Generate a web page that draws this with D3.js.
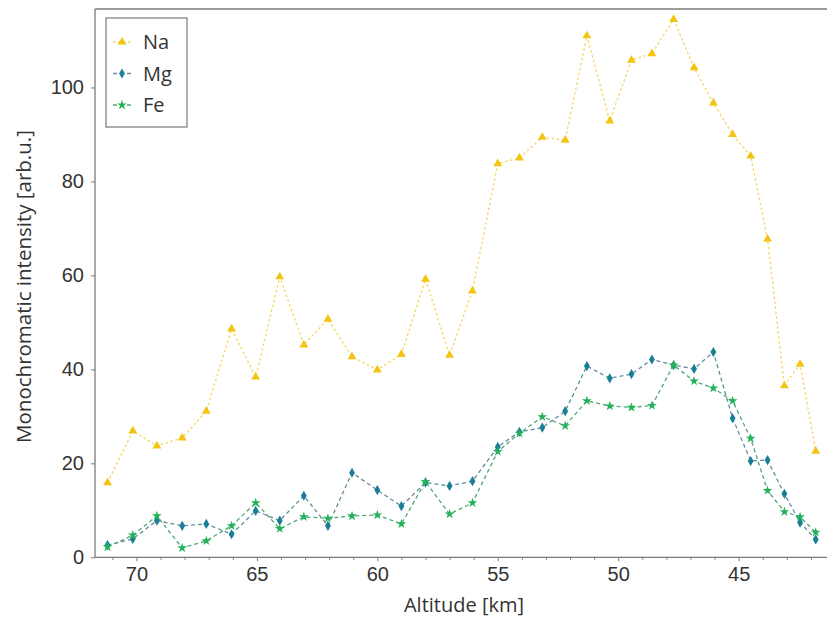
<!DOCTYPE html>
<html>
<head>
<meta charset="utf-8">
<script src="https://cdn.jsdelivr.net/npm/d3@7"></script>
<style>
  html, body { margin: 0; padding: 0; background: #fff; }
  svg { display: block; font-family: "Open Sans", "DejaVu Sans", sans-serif; }
</style>
</head>
<body>
<svg id="chart" width="827" height="619"></svg>
<script>
// Altitude grid of the profile [km]
const altitude = [71.2, 70.15, 69.15, 68.1, 67.1, 66.05, 65.05, 64.05, 63.05, 62.05, 61.05,
  60.0, 59.0, 58.0, 57.0, 56.05, 55.0, 54.1, 53.15, 52.2, 51.3, 50.35, 49.45, 48.6, 47.7,
  46.85, 46.05, 45.25, 44.5, 43.8, 43.1, 42.45, 41.8];

// Monochromatic intensities [arb.u.]
const naValues = [15.9, 26.9, 23.7, 25.4, 31.1, 48.6, 38.4, 59.7, 45.2, 50.7, 42.7, 39.9,
  43.2, 59.2, 43.0, 56.7, 83.8, 85.0, 89.4, 88.8, 111.0, 92.9, 105.8, 107.2, 114.5, 104.2,
  96.7, 90.0, 85.4, 67.7, 36.5, 41.1, 22.6];
const mgValues = [2.6, 3.9, 7.8, 6.7, 7.1, 4.9, 9.9, 7.8, 13.1, 6.7, 18.0, 14.3, 10.9,
  15.9, 15.2, 16.2, 23.5, 26.7, 27.6, 31.1, 40.7, 38.1, 39.0, 42.1, 40.9, 40.1, 43.7, 29.6,
  20.5, 20.7, 13.5, 7.4, 3.8];
const feValues = [2.2, 4.7, 8.8, 2.0, 3.5, 6.7, 11.6, 6.1, 8.6, 8.3, 8.8, 9.0, 7.1, 16.1,
  9.2, 11.6, 22.5, 26.4, 29.9, 28.0, 33.3, 32.2, 31.9, 32.3, 40.9, 37.5, 36.0, 33.3, 25.3,
  14.2, 9.7, 8.6, 5.3];

const seriesNames = ["Na", "Mg", "Fe"];
const xTicks = [70, 65, 60, 55, 50, 45];
const yTicks = [0, 20, 40, 60, 80, 100];
const xLabel = "Altitude [km]";
const yLabel = "Monochromatic intensity [arb.u.]";

const styles = {
  Na: { color: "#f3c413", line: "#f6d55a", symbol: d3.symbolTriangle, size: 34, dash: "2.5,2.5" },
  Mg: { color: "#1a7f96", line: "#5f8f9c", symbol: d3.symbolDiamond, size: 30, dash: "4,3" },
  Fe: { color: "#22b35a", line: "#4fa874", symbol: d3.symbolStar, size: 30, dash: "4,3" }
};

const series = [
  { name: "Na", values: naValues },
  { name: "Mg", values: mgValues },
  { name: "Fe", values: feValues }
];

const svg = d3.select("#chart");
const plotLeft = 95, plotRight = 835, plotTop = 9, plotBottom = 557.3;

const x = d3.scaleLinear().domain([71.72, 41.0]).range([plotLeft, plotRight]);
const y = d3.scaleLinear().domain([0, 116.7]).range([plotBottom, plotTop]);

svg.append("defs").append("clipPath").attr("id", "plotClip")
  .append("rect").attr("x", plotLeft).attr("y", plotTop - 6)
  .attr("width", plotRight - plotLeft + 10).attr("height", plotBottom - plotTop + 12);

// Axes
const axisColor = "#7a7a7a";
const textColor = "#333";

const xAxis = svg.append("g").attr("transform", `translate(0,${plotBottom})`)
  .call(d3.axisBottom(x).tickValues(xTicks).tickFormat(d3.format("d")).tickSize(4).tickPadding(6));
const xMinor = svg.append("g").attr("transform", `translate(0,${plotBottom})`)
  .call(d3.axisBottom(x).tickValues(d3.range(42, 72, 1).filter(v => v % 5 !== 0)).tickFormat("").tickSize(2.5));
const yAxis = svg.append("g").attr("transform", `translate(${plotLeft},0)`)
  .call(d3.axisLeft(y).tickValues(yTicks).tickFormat(d3.format("d")).tickSize(4).tickPadding(7));

[xAxis, xMinor, yAxis].forEach(g => {
  g.select(".domain").remove();
  g.selectAll(".tick line").attr("stroke", axisColor).attr("stroke-width", 1);
  g.selectAll(".tick text").attr("fill", textColor).style("font-size", "20px");
});

// Spines
svg.append("line").attr("x1", plotLeft).attr("x2", plotRight).attr("y1", plotBottom).attr("y2", plotBottom)
  .attr("stroke", axisColor).attr("stroke-width", 1.3);
svg.append("line").attr("x1", plotLeft).attr("x2", plotRight).attr("y1", plotTop).attr("y2", plotTop)
  .attr("stroke", axisColor).attr("stroke-width", 1.3);
svg.append("line").attr("x1", plotLeft).attr("x2", plotLeft).attr("y1", plotTop).attr("y2", plotBottom)
  .attr("stroke", axisColor).attr("stroke-width", 1.3);

// Axis labels
svg.append("text").attr("x", (plotLeft + plotRight) / 2 - 1).attr("y", 612)
  .attr("text-anchor", "middle").attr("fill", textColor).style("font-size", "20px").text(xLabel);
svg.append("text").attr("transform", `translate(31,${(128 + 445) / 2}) rotate(-90)`)
  .attr("text-anchor", "middle").attr("fill", textColor).style("font-size", "20.5px").text(yLabel);

// Series lines and markers
const plot = svg.append("g").attr("clip-path", "url(#plotClip)");
series.forEach(s => {
  const st = styles[s.name];
  const pts = altitude.map((a, i) => [a, s.values[i]]);
  plot.append("path").datum(pts)
    .attr("fill", "none").attr("stroke", st.line).attr("stroke-width", 1.3)
    .attr("stroke-dasharray", st.dash)
    .attr("d", d3.line().x(d => x(d[0])).y(d => y(d[1])));
  plot.selectAll(null).data(pts).enter().append("path")
    .attr("transform", d => `translate(${x(d[0])},${y(d[1])})`)
    .attr("d", d3.symbol().type(st.symbol).size(st.size))
    .attr("fill", st.color);
});

// Legend
const legend = svg.append("g");
legend.append("rect").attr("x", 106).attr("y", 18).attr("width", 81).attr("height", 109)
  .attr("fill", "#fff").attr("stroke", axisColor).attr("stroke-width", 1.2);
seriesNames.forEach((name, i) => {
  const st = styles[name];
  const cy = 42 + i * 31.5;
  legend.append("line").attr("x1", 113).attr("x2", 131).attr("y1", cy).attr("y2", cy)
    .attr("stroke", st.line).attr("stroke-width", 1.3).attr("stroke-dasharray", st.dash);
  legend.append("path").attr("transform", `translate(122,${cy})`)
    .attr("d", d3.symbol().type(st.symbol).size(st.size)).attr("fill", st.color);
  legend.append("text").attr("x", 143).attr("y", cy + 7).attr("fill", textColor)
    .style("font-size", "20px").text(name);
});
</script>
</body>
</html>
